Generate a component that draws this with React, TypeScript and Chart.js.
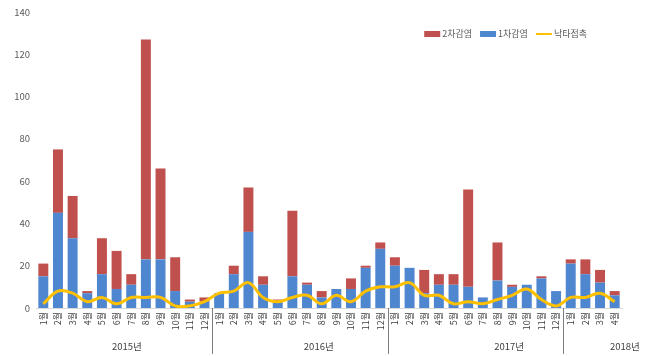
import { useEffect, useRef } from 'react';
import { Chart, registerables } from 'chart.js';

Chart.register(...registerables);

// Year groups and month counts shown on the x axis
const years = ['2015년', '2016년', '2017년', '2018년'];
const monthsPerYear = [12, 12, 12, 4];
const monthNames = ['1월', '2월', '3월', '4월', '5월', '6월', '7월', '8월', '9월', '10월', '11월', '12월'];
const months = monthsPerYear.flatMap((n) => monthNames.slice(0, n));

// Monthly case counts
const primary = [
  15, 45, 33, 7, 16, 9, 11, 23, 23, 8, 3, 3,
  7, 16, 36, 11, 3, 15, 11, 5, 9, 9, 19, 28,
  20, 19, 7, 11, 11, 10, 5, 13, 10, 11, 14, 8,
  21, 16, 12, 6,
];
const secondary = [
  6, 30, 20, 1, 17, 18, 5, 104, 43, 16, 1, 2,
  0, 4, 21, 4, 1, 31, 1, 3, 0, 5, 1, 3,
  4, 0, 11, 5, 5, 46, 0, 18, 1, 0, 1, 0,
  2, 7, 6, 2,
];
const camel = [
  2, 8, 7, 3, 5, 2, 5, 5, 5, 1, 1, 3,
  7, 8, 12, 5, 3, 5, 6, 2, 6, 3, 8, 10,
  10, 12, 6, 6, 2, 3, 2, 4, 6, 9, 4, 1,
  5, 5, 7, 3,
];

const primaryLabel = '1차감염';
const secondaryLabel = '2차감염';
const camelLabel = '낙타접촉';

const FONT = '"Noto Sans CJK KR", "Noto Sans", sans-serif';
const BLUE = '#4F86D0';
const RED = '#C0504D';
const GOLD = '#FFC000';

// Second-level axis: year names and separators under the month labels.
// Year names sit at these (fractional) category positions.
const yearLabelAt = [5.7, 18.8, 31.8, 39.7];

const yearAxisPlugin = {
  id: 'yearAxis',
  afterDraw(chart: any) {
    const x = chart.scales.x;
    const { ctx, chartArea } = chart;
    ctx.save();
    ctx.strokeStyle = '#7f7f7f';
    ctx.lineWidth = 1;
    ctx.font = `9.5px ${FONT}`;
    ctx.fillStyle = '#404040';
    ctx.textAlign = 'center';
    ctx.textBaseline = 'middle';
    let start = 0;
    years.forEach((label, i) => {
      const end = start + monthsPerYear[i] - 1;
      ctx.fillText(label, x.getPixelForValue(yearLabelAt[i]), chart.height - 10);
      if (i < years.length - 1) {
        const sep = Math.round((x.getPixelForValue(end) + x.getPixelForValue(end + 1)) / 2) + 0.5;
        ctx.beginPath();
        ctx.moveTo(sep, chartArea.bottom);
        ctx.lineTo(sep, chart.height - 2);
        ctx.stroke();
      }
      start = end + 1;
    });
    ctx.restore();
  },
};

// Legend in the upper right of the plot: 2차감염, 1차감염, 낙타접촉
const legendPlugin = {
  id: 'cornerLegend',
  afterDraw(chart: any) {
    const { ctx, chartArea } = chart;
    const items = [
      { label: secondaryLabel, color: RED, kind: 'box' },
      { label: primaryLabel, color: BLUE, kind: 'box' },
      { label: camelLabel, color: GOLD, kind: 'line' },
    ];
    ctx.save();
    ctx.font = `9px ${FONT}`;
    ctx.textBaseline = 'middle';
    ctx.textAlign = 'left';
    const swatch = 16;
    const gap = 2;
    const spacing = 8;
    const widths = items.map((it) => swatch + gap + ctx.measureText(it.label).width);
    const total = widths.reduce((a, b) => a + b, 0) + spacing * (items.length - 1);
    let x = chartArea.right - 35 - total;
    const y = chartArea.top + 22;
    items.forEach((it, i) => {
      if (it.kind === 'box') {
        ctx.fillStyle = it.color;
        ctx.fillRect(x, y - 3, swatch, 6);
      } else {
        ctx.strokeStyle = it.color;
        ctx.lineWidth = 2;
        ctx.beginPath();
        ctx.moveTo(x, y);
        ctx.lineTo(x + swatch, y);
        ctx.stroke();
      }
      ctx.fillStyle = '#595959';
      ctx.fillText(it.label, x + swatch + gap, y);
      x += widths[i] + spacing;
    });
    ctx.restore();
  },
};

export default function App() {
  const canvasRef = useRef<HTMLCanvasElement | null>(null);

  useEffect(() => {
    document.body.style.margin = '0';
    const canvas = canvasRef.current;
    if (!canvas) return;
    const chart = new Chart(canvas, {
      type: 'bar',
      data: {
        labels: months,
        datasets: [
          {
            type: 'bar',
            label: primaryLabel,
            data: primary,
            backgroundColor: BLUE,
            stack: 'cases',
            order: 1,
            categoryPercentage: 1,
            barPercentage: 0.68,
          },
          {
            type: 'bar',
            label: secondaryLabel,
            data: secondary,
            backgroundColor: RED,
            stack: 'cases',
            order: 1,
            categoryPercentage: 1,
            barPercentage: 0.68,
          },
          {
            type: 'line',
            label: camelLabel,
            data: camel,
            borderColor: GOLD,
            backgroundColor: GOLD,
            borderWidth: 3,
            pointRadius: 0,
            tension: 0.4,
            stack: 'camel',
            order: 0,
          } as any,
        ],
      },
      options: {
        animation: false,
        responsive: true,
        maintainAspectRatio: false,
        layout: { padding: { top: 12, right: 24, left: 0, bottom: 0 } },
        plugins: {
          legend: { display: false },
          tooltip: { enabled: false },
        },
        scales: {
          x: {
            stacked: true,
            grid: { display: false, drawTicks: false },
            border: { display: true, color: '#d9d9d9' },
            ticks: {
              autoSkip: false,
              minRotation: 90,
              maxRotation: 90,
              padding: 4,
              color: '#404040',
              font: { family: FONT, size: 9 },
            },
            afterFit: (scale: any) => {
              scale.height = 48;
            },
          },
          y: {
            stacked: true,
            min: 0,
            max: 140,
            grid: { display: false, drawTicks: false },
            border: { display: false },
            ticks: {
              stepSize: 20,
              padding: 6,
              color: '#595959',
              font: { family: FONT, size: 9.5 },
            },
            afterFit: (scale: any) => {
              scale.width = 36;
            },
          },
        },
      },
      plugins: [yearAxisPlugin, legendPlugin],
    });
    return () => chart.destroy();
  }, []);

  return (
    <div style={{ position: 'relative', width: 646, height: 356 }}>
      <canvas ref={canvasRef} />
    </div>
  );
}
